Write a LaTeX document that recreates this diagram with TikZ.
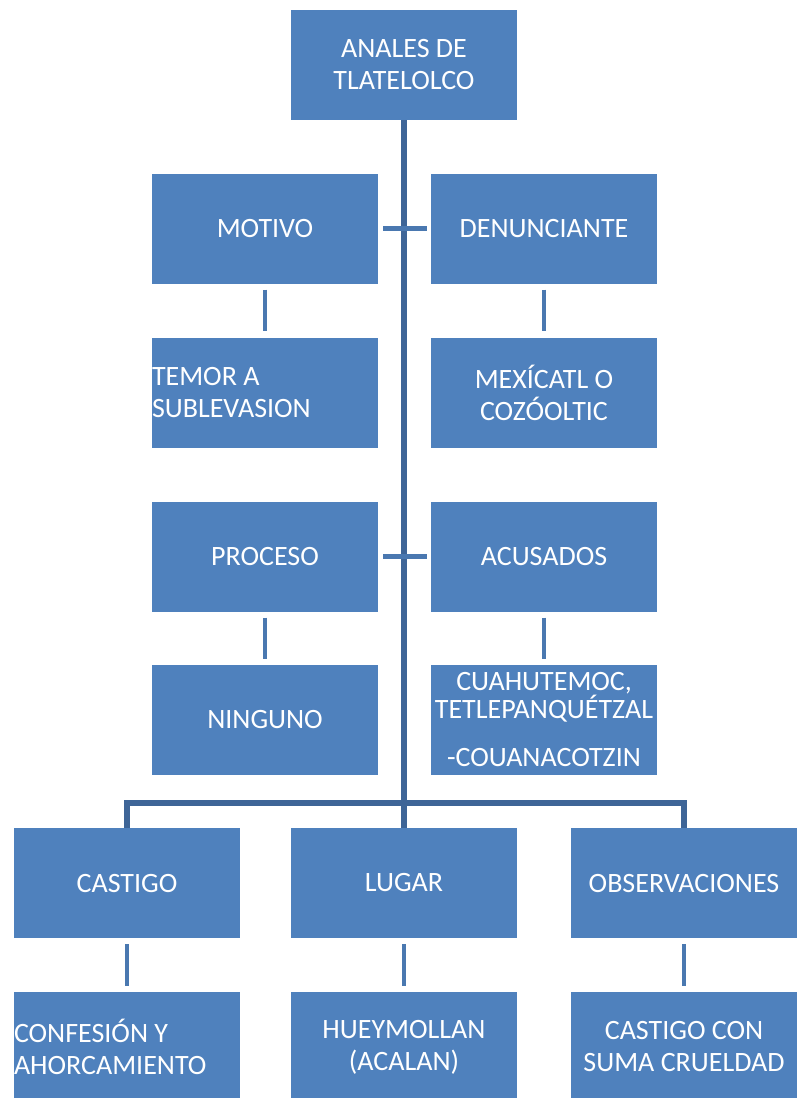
\documentclass[tikz,border=0pt]{standalone}
\usepackage{fontspec}
\setmainfont{Carlito}
\usepackage{tikz}
\definecolor{boxblue}{HTML}{4F81BD}
\definecolor{trunkblue}{HTML}{3E6597}
\definecolor{linkblue}{HTML}{4A78B0}

\begin{document}
\begin{tikzpicture}[x=1pt,y=-1pt,
  box/.style={rectangle,fill=boxblue,minimum width=226pt,minimum height=110pt,
    inner sep=0pt,text=white,align=center,font=\fontsize{28}{32}\selectfont},
  leftbox/.style={box,align=flush left,text width=226pt},
  trunk/.style={draw=trunkblue,line width=5.5pt},
  link/.style={draw=linkblue,line width=4.5pt,shorten <=6pt,shorten >=6pt}]
\useasboundingbox (0,0) rectangle (803,1098);
\node [box] (anales) at (404,65) {ANALES DE\\TLATELOLCO};
\node [box] (motivo) at (265,228.5) {MOTIVO};
\node [box] (denunciante) at (544,228.5) {DENUNCIANTE};
\node [leftbox] (temor) at (265,392.5) {TEMOR A\\SUBLEVASION};
\node [box] (mexicatl) at (544,392.5) {MEXÍCATL O\\COZÓOLTIC};
\node [box] (proceso) at (265,556.5) {PROCESO};
\node [box] (acusados) at (544,556.5) {ACUSADOS};
\node [box] (ninguno) at (265,720) {NINGUNO};
\node [box] (cuahutemoc) at (544,720) {CUAHUTEMOC,\\[-4pt]TETLEPANQUÉTZAL\\[16pt]-COUANACOTZIN};
\node [box] (castigo) at (127,883) {CASTIGO};
\node [box] (lugar) at (404,883) {LUGAR};
\node [box] (observaciones) at (684,883) {OBSERVACIONES};
\node [leftbox] (confesion) at (127,1047) {CONFESIÓN Y\\AHORCAMIENTO};
\node [box] (hueymollan) at (404,1047) {HUEYMOLLAN\\(ACALAN)};
\node [box] (crueldad) at (684,1047) {CASTIGO CON\\SUMA CRUELDAD};
\coordinate (bar) at (404,803);
\draw [trunk] (anales) -- (lugar);
\draw [trunk] (castigo) |- (bar) -| (observaciones);
\draw [link,shorten <=5pt,shorten >=4pt] (motivo) -- (denunciante);
\draw [link,shorten <=5pt,shorten >=4pt] (proceso) -- (acusados);
\draw [link] (motivo) -- (temor);
\draw [link] (denunciante) -- (mexicatl);
\draw [link] (proceso) -- (ninguno);
\draw [link] (acusados) -- (cuahutemoc);
\draw [link] (castigo) -- (confesion);
\draw [link] (lugar) -- (hueymollan);
\draw [link] (observaciones) -- (crueldad);
\end{tikzpicture}
\end{document}
